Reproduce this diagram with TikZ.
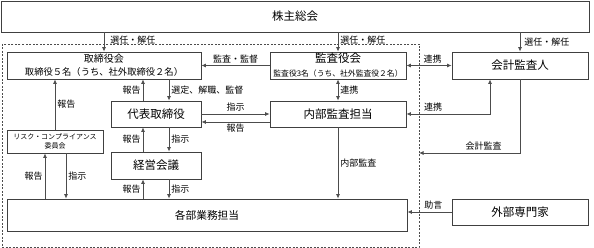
\documentclass[tikz,border=0pt]{standalone}
\usepackage{fontspec}
\setmainfont{Noto Sans CJK JP}
\usetikzlibrary{arrows.meta}
\newcommand{\fs}[1]{\fontsize{#1}{#1}\selectfont}

\begin{document}
\begin{tikzpicture}[x=1pt,y=-1pt,>={Latex[length=4.5pt,width=4pt]},
b/.style={draw=black!75,line width=0.8pt,inner sep=0pt,align=center},
c/.style={draw=black!70,line width=0.8pt},
l/.style={font=\fs{9},inner sep=2pt},
frame/.style={draw=black!70,line width=0.8pt,dash pattern=on 2pt off 1.5pt}]
\useasboundingbox (0,0) rectangle (594,248);
% boxes
\node[b,minimum width=588pt,minimum height=31pt,font=\fs{11.5}] (soukai) at (295,16.5) {株主総会};
\draw[frame] (2,44) rectangle (419,247);
\coordinate (fr) at (419,153);
\node[b,minimum width=194pt,minimum height=27pt] (torishimari) at (104,65.5)
  {{\fs{10}取締役会}\\[1pt]{\fs{9.3}取締役５名（うち、社外取締役２名）}};
\node[b,minimum width=136pt,minimum height=27pt] (kansa) at (338,65.5)
  {{\fs{11.5}監査役会}\\[2pt]{\fs{7.8}監査役3名（うち、社外監査役２名）}};
\node[b,minimum width=136pt,minimum height=27pt,font=\fs{11.5}] (kaikei) at (520,65.5) {会計監査人};
\node[b,minimum width=90pt,minimum height=26pt,font=\fs{11.5}] (daihyo) at (156,114) {代表取締役};
\node[b,minimum width=136pt,minimum height=26pt,font=\fs{11.5}] (naibu) at (338,114) {内部監査担当};
\node[b,minimum width=96pt,minimum height=23pt,font=\fs{7}] (risk) at (55,141.5)
  {リスク・コンプライアンス\\[2pt]委員会};
\node[b,minimum width=90pt,minimum height=27pt,font=\fs{11.5}] (keiei) at (156,165.5) {経営会議};
\node[b,minimum width=400pt,minimum height=32pt,font=\fs{10.7}] (kakubu) at (207,215) {各部業務担当};
\node[b,minimum width=136pt,minimum height=26pt,font=\fs{11.5}] (gaibu) at (520,212) {外部専門家};
% connectors
\draw[c,->] (torishimari.north |- soukai.south) -- node[l,right,xshift=4pt,pos=0.4]{選任・解任} (torishimari.north);
\draw[c,->] (kansa.north |- soukai.south) -- node[l,right,pos=0.4]{選任・解任} (kansa.north);
\draw[c,->] (kaikei.north |- soukai.south) -- node[l,right,xshift=2pt,pos=0.5]{選任・解任} (kaikei.north);
\draw[c,->] (kansa) -- node[l,above]{監査・監督} (torishimari);
\draw[c,<->] (kansa) -- node[l,above,pos=0.58]{連携} (kaikei);
\draw[c,->] ([xshift=13pt]daihyo.north |- torishimari.south) -- node[l,right]{選定、解職、監督} ([xshift=13pt]daihyo.north);
\draw[c,->] ([xshift=-13pt]daihyo.north) -- node[l,left]{報告} ([xshift=-13pt]daihyo.north |- torishimari.south);
\draw[c,->] (risk.north) -- node[l,right]{報告} (risk.north |- torishimari.south);
\draw[c,->] (daihyo) -- node[l,above]{指示} (naibu);
\draw[c,->] ([yshift=-8pt]naibu.west) -- node[l,below]{報告} ([yshift=-8pt]daihyo.east);
\draw[c,<->] (kansa) -- node[l,right]{連携} (naibu);
\draw[c,<->] (naibu.east) -| node[l,above,pos=0.16]{連携} ([xshift=-30pt]kaikei.south);
\draw[c,->] (kaikei.south) |- node[l,above,pos=0.68]{会計監査} (fr);
\draw[c,->] (naibu.south) -- node[l,right]{内部監査} (naibu.south |- kakubu.north);
\draw[c,->] ([xshift=-13pt]keiei.north) -- node[l,left]{報告} ([xshift=-13pt]keiei.north |- daihyo.south);
\draw[c,->] ([xshift=13pt]keiei.north |- daihyo.south) -- node[l,right]{指示} ([xshift=13pt]keiei.north);
\draw[c,->] ([xshift=-13pt]keiei.south |- kakubu.north) -- node[l,left]{報告} ([xshift=-13pt]keiei.south);
\draw[c,->] ([xshift=13pt]keiei.south) -- node[l,right]{指示} ([xshift=13pt]keiei.south |- kakubu.north);
\draw[c,->] ([xshift=-10pt]risk.south |- kakubu.north) -- node[l,left]{報告} ([xshift=-10pt]risk.south);
\draw[c,->] ([xshift=11pt]risk.south) -- node[l,right]{指示} ([xshift=11pt]risk.south |- kakubu.north);
\draw[c,->] (gaibu.west) -- node[l,above,pos=0.41]{助言} (kakubu.east |- gaibu.west);
\end{tikzpicture}
\end{document}
